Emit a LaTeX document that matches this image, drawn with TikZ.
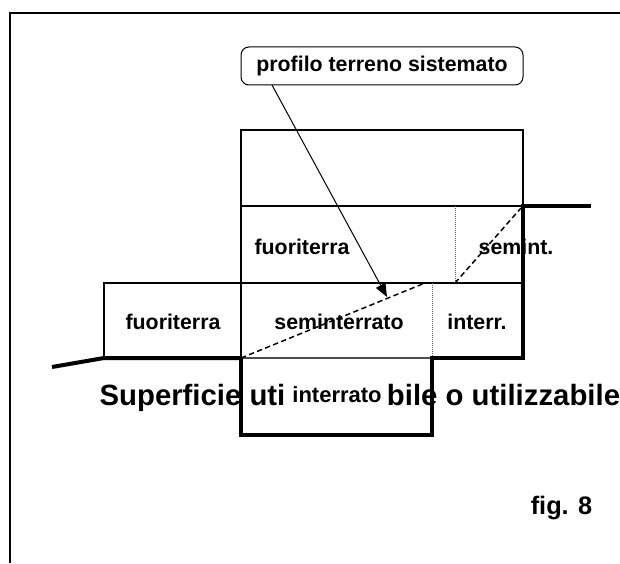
\documentclass[tikz,border=0pt]{standalone}
\usepackage{fontspec}
\setmainfont{Liberation Sans}
\usetikzlibrary{arrows.meta,positioning}

\begin{document}
\begin{tikzpicture}[%
        x=0.75pt, y=-0.75pt,
        every node/.style={inner sep=0pt, font=\bfseries\fontsize{16}{18}\selectfont},
        wall/.style={line width=1.5pt},
        ground/.style={line width=3pt, line join=miter},
        cut/.style={line width=1.1pt, dash pattern=on 4pt off 2.5pt},
        seam/.style={line width=0.5pt, densely dotted, gray!70!black},
        bigtext/.style={anchor=base, font=\bfseries\fontsize{22}{24}\selectfont}
      ]
      \useasboundingbox (0,0) rectangle (620,563);
      % corners of the section
      \coordinate (a0) at (241,130);
      \coordinate (a1) at (523,130);
      \coordinate (b0) at (241,206);
      \coordinate (b1) at (523,206);
      \coordinate (c0) at (104,283);
      \coordinate (c1) at (241,283);
      \coordinate (c2) at (523,283);
      \coordinate (d0) at (104,358);
      \coordinate (d1) at (241,358);
      \coordinate (d2) at (432,358);
      \coordinate (d3) at (523,358);
      \coordinate (e0) at (241,435);
      \coordinate (e1) at (432,435);
      \coordinate (g0) at (52,367);
      \coordinate (g1) at (591,206);
      \coordinate (s0) at (455,206);
      \coordinate (s1) at (455,283);
      \coordinate (s2) at (432,283);
      \coordinate (p0) at (425,283);
      \coordinate (p1) at (521,208);
      \coordinate (tip) at (387,297);
      % frame
      \draw[line width=1.7pt] (10,563) -- (10,13) -- (620,13);
      % text under the walls
      \node[bigtext] (sup0) at (192.5,405) {Superficie uti};
      \node[bigtext] (sup1) at (503.5,405) {bile o utilizzabile};
      \node[font=\bfseries\fontsize{16.5}{18}\selectfont] (under) at (337,395) {interrato};
      \node (fuori1) at (302,247) {fuoriterra};
      \node (semi1) at (516,247) {semint.};
      \node (fuori0) at (173,322) {fuoriterra};
      \node (semi0) at (339,322) {seminterrato};
      \node (inter0) at (477,322) {interr.};
      \node[font=\bfseries\fontsize{19}{21}\selectfont] (fig) at (561.5,508) {fig. 8};
      % walls
      \draw[wall] (d1) -- (a0) -- (a1) -- (b1);
      \draw[wall] (b0) -- (b1);
      \draw[wall] (d0) -- (c0) -- (c2);
      \draw[line width=1pt, gray!60!black] (d1) -- (d2);
      \draw[seam] (s0) -- (s1);
      \draw[seam] (s2) -- (d2);
      \draw[cut] (d1) -- (p0);
      \draw[cut] (s1) -- (p1);
      % ground line
      \draw[ground] (g0) -- (d0) -- (d1);
      \draw[ground] (d1) -- (e0) -- (e1) -- (d2) -- (d3) -- (b1) -- (g1);
      % callout
      \node[draw, line width=0.75pt, rounded corners=6pt, minimum width=211.5pt, minimum height=28.5pt] (profilo) at (382,66) {profilo terreno sistemato};
      \coordinate (start) at (272,85);
      \draw[line width=0.75pt, -{Triangle[length=10pt,width=8pt]}] (start) -- (tip);
    \end{tikzpicture}
\end{document}
